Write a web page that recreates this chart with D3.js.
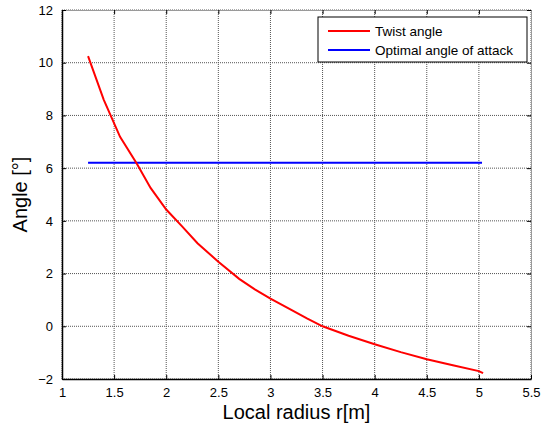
<!DOCTYPE html>
<html>
<head>
<meta charset="utf-8">
<script src="https://cdn.jsdelivr.net/npm/d3@7"></script>
<style>
  body { margin: 0; background: #fff; }
  svg { font-family: "Liberation Sans", Arial, sans-serif; }
</style>
</head>
<body>
<div id="vis"></div>
<script>
// frame
const FRAME_WIDTH = 548;
const FRAME_HEIGHT = 430;
const MARGINS = {left: 62, right: 17, top: 10, bottom: 51};
const VIS_WIDTH = FRAME_WIDTH - MARGINS.left - MARGINS.right;
const VIS_HEIGHT = FRAME_HEIGHT - MARGINS.top - MARGINS.bottom;

// data
const radius = [1.25, 1.4, 1.557, 1.717, 1.85, 2.0, 2.15, 2.3, 2.5, 2.7, 2.85, 3.0, 3.2, 3.35, 3.5, 3.75, 4.0, 4.25, 4.5, 4.75, 5.0, 5.04];
const twist = [10.25, 8.6, 7.19, 6.18, 5.25, 4.43, 3.8, 3.15, 2.45, 1.8, 1.4, 1.05, 0.62, 0.3, 0.0, -0.36, -0.68, -0.98, -1.25, -1.48, -1.7, -1.78];
const optRadius = [1.25, 5.03];
const optAngle = [6.2, 6.2];
const xTicks = [1, 1.5, 2, 2.5, 3, 3.5, 4, 4.5, 5, 5.5];
const yTicks = [-2, 0, 2, 4, 6, 8, 10, 12];
const legendLabels = ["Twist angle", "Optimal angle of attack"];
const seriesColors = ["#ff0000", "#0000ff"];

const svg = d3.select("#vis")
  .append("svg")
    .attr("width", FRAME_WIDTH)
    .attr("height", FRAME_HEIGHT);

const X_SCALE = d3.scaleLinear().domain([1, 5.5]).range([0, VIS_WIDTH]);
const Y_SCALE = d3.scaleLinear().domain([-2, 12]).range([VIS_HEIGHT, 0]);

const g = svg.append("g")
  .attr("transform", "translate(" + MARGINS.left + "," + MARGINS.top + ")");

// grid
g.append("g")
  .selectAll("line")
  .data(xTicks)
  .enter()
  .append("line")
    .attr("x1", d => X_SCALE(d)).attr("x2", d => X_SCALE(d))
    .attr("y1", 0).attr("y2", VIS_HEIGHT)
    .attr("stroke", "#555").attr("stroke-width", 1)
    .attr("stroke-dasharray", "1,1");
g.append("g")
  .selectAll("line")
  .data(yTicks)
  .enter()
  .append("line")
    .attr("x1", 0).attr("x2", VIS_WIDTH)
    .attr("y1", d => Y_SCALE(d)).attr("y2", d => Y_SCALE(d))
    .attr("stroke", "#555").attr("stroke-width", 1)
    .attr("stroke-dasharray", "1,1");

// top + right axes (ticks only, lighter)
g.append("g")
  .call(d3.axisTop(X_SCALE).tickValues(xTicks).tickSize(-4).tickFormat(""))
  .call(a => a.select(".domain").attr("stroke", "#9a9a9a"))
  .call(a => a.selectAll(".tick line").attr("stroke", "#000"));
g.append("g")
  .attr("transform", "translate(" + VIS_WIDTH + ",0)")
  .call(d3.axisRight(Y_SCALE).tickValues(yTicks).tickSize(-4).tickFormat(""))
  .call(a => a.select(".domain").attr("stroke", "#9a9a9a"))
  .call(a => a.selectAll(".tick line").attr("stroke", "#000"));

// bottom axis
const xAxis = g.append("g")
  .attr("transform", "translate(0," + VIS_HEIGHT + ")")
  .call(d3.axisBottom(X_SCALE).tickValues(xTicks).tickSize(-4).tickPadding(9).tickSizeOuter(0).tickFormat(d3.format("")));
xAxis.select(".domain").attr("stroke-width", 1.5);
xAxis.selectAll("text").attr("font-size", "13px").attr("fill", "#000")
  .attr("font-family", "Liberation Sans, Arial, sans-serif");

// left axis
const yAxis = g.append("g")
  .call(d3.axisLeft(Y_SCALE).tickValues(yTicks).tickSize(-4).tickPadding(9).tickSizeOuter(0));
yAxis.select(".domain").attr("stroke-width", 1.5);
yAxis.selectAll("text").attr("font-size", "13px").attr("fill", "#000")
  .attr("font-family", "Liberation Sans, Arial, sans-serif");

// lines
const twistData = radius.map((r, i) => ({x: r, y: twist[i]}));
const optData = optRadius.map((r, i) => ({x: r, y: optAngle[i]}));
const line = d3.line().x(d => X_SCALE(d.x)).y(d => Y_SCALE(d.y));

g.append("path")
  .datum(optData)
  .attr("d", line)
  .attr("fill", "none")
  .attr("stroke", seriesColors[1])
  .attr("stroke-width", 2);

g.append("path")
  .datum(twistData)
  .attr("d", line)
  .attr("fill", "none")
  .attr("stroke", seriesColors[0])
  .attr("stroke-width", 2);

// axis labels
svg.append("text")
  .attr("x", MARGINS.left + VIS_WIDTH / 2)
  .attr("y", 419)
  .attr("text-anchor", "middle")
  .attr("font-size", "20px")
  .text("Local radius r[m]");

svg.append("text")
  .attr("transform", "translate(27," + (MARGINS.top + VIS_HEIGHT / 2) + ") rotate(-90)")
  .attr("text-anchor", "middle")
  .attr("font-size", "20px")
  .text("Angle [°]");

// legend
const legend = svg.append("g").attr("transform", "translate(318,17)");
legend.append("rect")
  .attr("width", 209).attr("height", 45)
  .attr("fill", "#fff").attr("stroke", "#000").attr("stroke-width", 1);
legendLabels.forEach((lab, i) => {
  const yy = 14 + i * 19;
  legend.append("line")
    .attr("x1", 10).attr("x2", 52)
    .attr("y1", yy).attr("y2", yy)
    .attr("stroke", seriesColors[i]).attr("stroke-width", 2);
  legend.append("text")
    .attr("x", 57).attr("y", yy + 5)
    .attr("font-size", "13.5px")
    .text(lab);
});
</script>
</body>
</html>
